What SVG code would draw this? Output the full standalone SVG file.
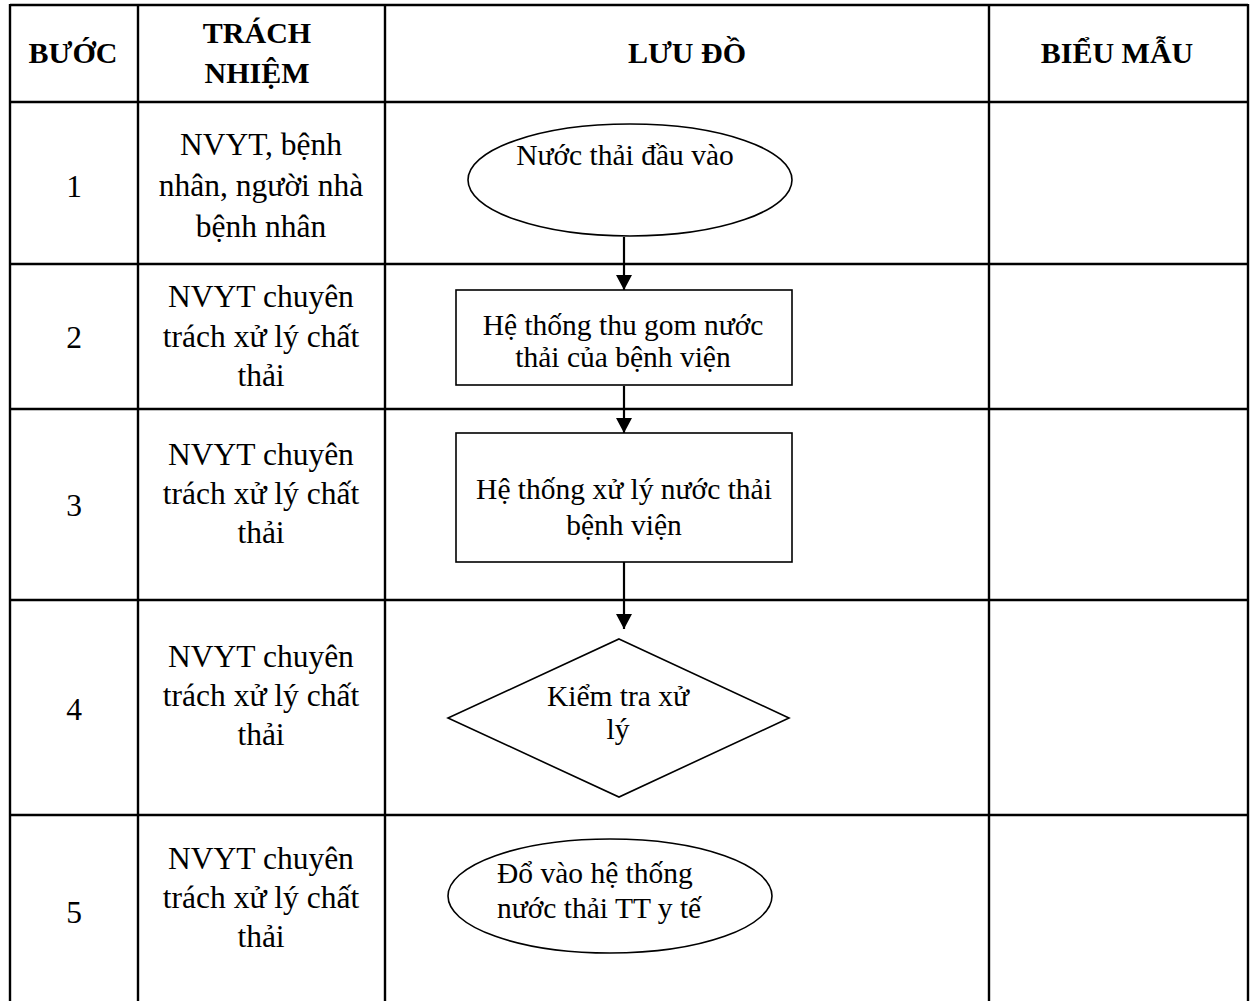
<svg xmlns="http://www.w3.org/2000/svg" width="1250" height="1001" viewBox="0 0 1250 1001">
  <defs>
    <marker id="arrow" viewBox="0 0 15 16" refX="15" refY="8" markerWidth="15" markerHeight="16" markerUnits="userSpaceOnUse" orient="auto">
      <path d="M0,0 L15,8 L0,16 Z" fill="#000"/>
    </marker>
    <style>
      .grid { stroke:#000; stroke-width:2.4; fill:none; }
      .hdr { font-family:"Liberation Serif","Times New Roman",serif; font-weight:bold; font-size:30px; text-anchor:middle; fill:#000; }
      .cell { font-family:"Liberation Serif","Times New Roman",serif; font-size:31.5px; text-anchor:middle; fill:#000; }
      .lbl { font-family:"Liberation Serif","Times New Roman",serif; font-size:29.5px; text-anchor:middle; fill:#000; }
      .lbl-l { font-family:"Liberation Serif","Times New Roman",serif; font-size:29.5px; text-anchor:start; fill:#000; }
      .shape { fill:#fff; stroke:#000; stroke-width:1.6; }
      .conn { stroke:#000; stroke-width:2.2; fill:none; }
    </style>
  </defs>
  <rect width="1250" height="1001" fill="#fff"/>

  <g id="table">
    <line class="grid" x1="10" y1="5" x2="1248" y2="5"/>
    <line class="grid" x1="10" y1="102" x2="1248" y2="102"/>
    <line class="grid" x1="10" y1="264" x2="1248" y2="264"/>
    <line class="grid" x1="10" y1="409" x2="1248" y2="409"/>
    <line class="grid" x1="10" y1="600" x2="1248" y2="600"/>
    <line class="grid" x1="10" y1="815" x2="1248" y2="815"/>
    <line class="grid" x1="10" y1="4" x2="10" y2="1001"/>
    <line class="grid" x1="138" y1="4" x2="138" y2="1001"/>
    <line class="grid" x1="385" y1="4" x2="385" y2="1001"/>
    <line class="grid" x1="989" y1="4" x2="989" y2="1001"/>
    <line class="grid" x1="1248" y1="4" x2="1248" y2="1001"/>
  </g>

  <g id="header">
    <text class="hdr" x="73" y="63">BƯỚC</text>
    <text class="hdr" x="257" y="43">TRÁCH</text>
    <text class="hdr" x="257" y="83">NHIỆM</text>
    <text class="hdr" x="687" y="63">LƯU ĐỒ</text>
    <text class="hdr" x="1117" y="63">BIỂU MẪU</text>
  </g>

  <g id="steps">
    <text class="cell" x="74" y="197">1</text>
    <text class="cell" x="74" y="348">2</text>
    <text class="cell" x="74" y="516">3</text>
    <text class="cell" x="74" y="720">4</text>
    <text class="cell" x="74" y="923">5</text>
  </g>

  <g id="responsibility">
    <text class="cell" x="261" y="155">NVYT, bệnh</text>
    <text class="cell" x="261" y="196">nhân, người nhà</text>
    <text class="cell" x="261" y="237">bệnh nhân</text>

    <text class="cell" x="261" y="307">NVYT chuyên</text>
    <text class="cell" x="261" y="347">trách xử lý chất</text>
    <text class="cell" x="261" y="386">thải</text>

    <text class="cell" x="261" y="465">NVYT chuyên</text>
    <text class="cell" x="261" y="504">trách xử lý chất</text>
    <text class="cell" x="261" y="543">thải</text>

    <text class="cell" x="261" y="667">NVYT chuyên</text>
    <text class="cell" x="261" y="706">trách xử lý chất</text>
    <text class="cell" x="261" y="745">thải</text>

    <text class="cell" x="261" y="869">NVYT chuyên</text>
    <text class="cell" x="261" y="908">trách xử lý chất</text>
    <text class="cell" x="261" y="947">thải</text>
  </g>

  <g id="node-input">
    <ellipse class="shape" cx="630" cy="180" rx="162" ry="56"/>
    <text class="lbl" x="625" y="165">Nước thải đầu vào</text>
  </g>

  <g id="node-collect">
    <rect class="shape" x="456" y="290" width="336" height="95"/>
    <text class="lbl" x="623" y="335">Hệ thống thu gom nước</text>
    <text class="lbl" x="623" y="367">thải của bệnh viện</text>
  </g>

  <g id="node-treat">
    <rect class="shape" x="456" y="433" width="336" height="129"/>
    <text class="lbl" x="624" y="499">Hệ thống xử lý nước thải</text>
    <text class="lbl" x="624" y="535">bệnh viện</text>
  </g>

  <g id="node-check">
    <polygon class="shape" points="619,639 789,718 619,797 448,718"/>
    <text class="lbl" x="618" y="706">Kiểm tra xử</text>
    <text class="lbl" x="618" y="739">lý</text>
  </g>

  <g id="node-output">
    <ellipse class="shape" cx="610" cy="896" rx="162" ry="57"/>
    <text class="lbl-l" x="497" y="883">Đổ vào hệ thống</text>
    <text class="lbl-l" x="497" y="918">nước thải TT y tế</text>
  </g>

  <g id="connectors">
    <line class="conn" x1="624" y1="237" x2="624" y2="290" marker-end="url(#arrow)"/>
    <line class="conn" x1="624" y1="386" x2="624" y2="433" marker-end="url(#arrow)"/>
    <line class="conn" x1="624" y1="562" x2="624" y2="629" marker-end="url(#arrow)"/>
  </g>
</svg>
